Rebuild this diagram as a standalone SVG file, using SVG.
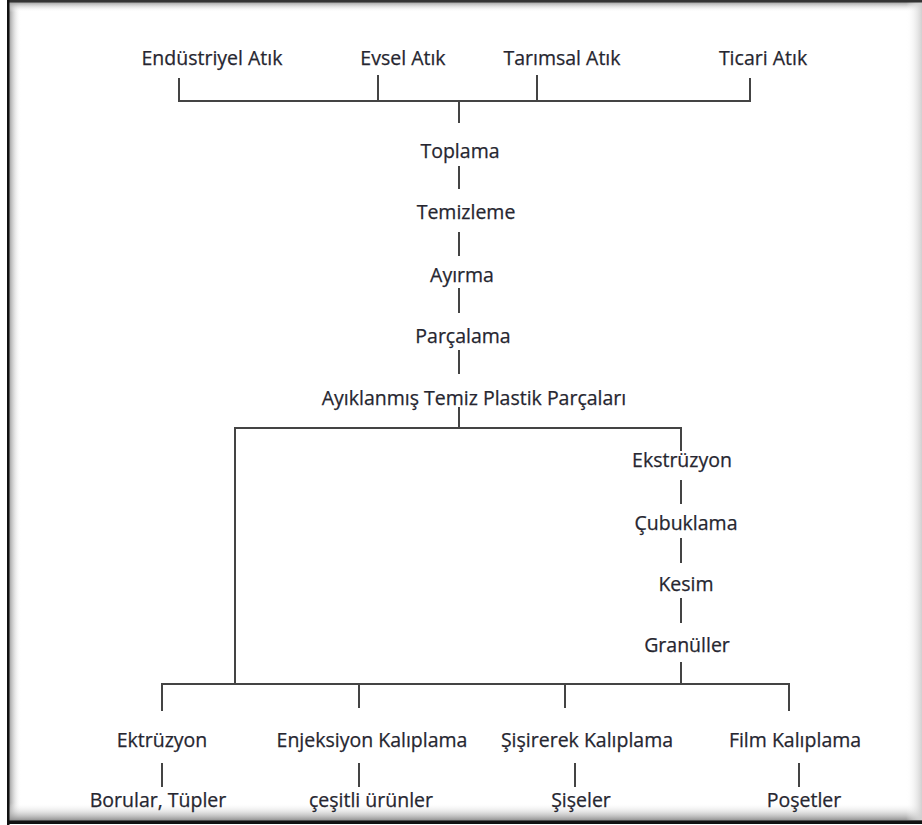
<svg xmlns="http://www.w3.org/2000/svg" width="922" height="825" viewBox="0 0 922 825">
<defs>
<linearGradient id="gL" x1="0" y1="0" x2="1" y2="0"><stop offset="0" stop-color="#9a9a9a"/><stop offset="1" stop-color="#fff" stop-opacity="0"/></linearGradient>
<linearGradient id="gT" x1="0" y1="0" x2="0" y2="1"><stop offset="0" stop-color="#9a9a9a"/><stop offset="1" stop-color="#fff" stop-opacity="0"/></linearGradient>
<linearGradient id="gB" x1="0" y1="1" x2="0" y2="0"><stop offset="0" stop-color="#8a8a8a"/><stop offset="1" stop-color="#fff" stop-opacity="0"/></linearGradient>
<linearGradient id="gR" x1="1" y1="0" x2="0" y2="0"><stop offset="0" stop-color="#d0d0d0"/><stop offset="1" stop-color="#fff" stop-opacity="0"/></linearGradient>
<style>
text{font-family:"Open Sans","Noto Sans","Liberation Sans",sans-serif;font-size:19.5px;fill:#262630;stroke:#262630;stroke-width:0.25;text-anchor:middle}
.c line{stroke:#444;stroke-width:2;stroke-linecap:square}
</style>
</defs>
<rect x="0" y="0" width="922" height="825" fill="#fff"/>
<g id="frame">
<rect x="9" y="2" width="12" height="818" fill="url(#gL)"/>
<rect x="9" y="2" width="913" height="10" fill="url(#gT)"/>
<rect x="9" y="803" width="913" height="18" fill="url(#gB)"/>
<rect x="906" y="2" width="16" height="818" fill="url(#gR)"/>
<rect x="7" y="0" width="915" height="2.5" fill="#333"/>
<rect x="7" y="0" width="2.5" height="825" fill="#111"/>
<rect x="7" y="820.5" width="915" height="3.5" fill="#111"/>
</g>
<g id="connectors" class="c">
<line x1="179" y1="79" x2="179" y2="101"/>
<line x1="378" y1="76" x2="378" y2="101"/>
<line x1="537" y1="76" x2="537" y2="101"/>
<line x1="750" y1="79" x2="750" y2="101"/>
<line x1="179" y1="101" x2="750" y2="101"/>
<line x1="459" y1="101" x2="459" y2="122"/>
<line x1="459" y1="167" x2="459" y2="188"/>
<line x1="459" y1="233" x2="459" y2="255"/>
<line x1="459" y1="289" x2="459" y2="312"/>
<line x1="459" y1="351" x2="459" y2="373"/>
<line x1="459" y1="408" x2="459" y2="428"/>
<line x1="235" y1="428" x2="681" y2="428"/>
<line x1="681" y1="428" x2="681" y2="450"/>
<line x1="235" y1="428" x2="235" y2="684"/>
<line x1="681" y1="481" x2="681" y2="503"/>
<line x1="681" y1="539" x2="681" y2="562"/>
<line x1="681" y1="599" x2="681" y2="622"/>
<line x1="681" y1="663" x2="681" y2="684"/>
<line x1="162" y1="684" x2="789" y2="684"/>
<line x1="162" y1="684" x2="162" y2="710"/>
<line x1="359" y1="684" x2="359" y2="707"/>
<line x1="565" y1="684" x2="565" y2="707"/>
<line x1="789" y1="684" x2="789" y2="710"/>
<line x1="162" y1="764" x2="162" y2="786"/>
<line x1="359" y1="764" x2="359" y2="786"/>
<line x1="575" y1="764" x2="575" y2="786"/>
<line x1="799" y1="764" x2="799" y2="786"/>
</g>
<g id="n-endustriyel"><text x="212" y="65">Endüstriyel Atık</text></g>
<g id="n-evsel"><text x="403" y="65">Evsel Atık</text></g>
<g id="n-tarimsal"><text x="562" y="65">Tarımsal Atık</text></g>
<g id="n-ticari"><text x="763" y="65">Ticari Atık</text></g>
<g id="n-toplama"><text x="460" y="158">Toplama</text></g>
<g id="n-temizleme"><text x="466" y="219">Temizleme</text></g>
<g id="n-ayirma"><text x="462" y="282">Ayırma</text></g>
<g id="n-parcalama"><text x="463" y="343">Parçalama</text></g>
<g id="n-ayiklanmis"><text x="474" y="405">Ayıklanmış Temiz Plastik Parçaları</text></g>
<g id="n-ekstruzyon"><text x="682" y="467">Ekstrüzyon</text></g>
<g id="n-cubuklama"><text x="686" y="530">Çubuklama</text></g>
<g id="n-kesim"><text x="686" y="591">Kesim</text></g>
<g id="n-granuller"><text x="687" y="652">Granüller</text></g>
<g id="n-ektruzyon"><text x="162" y="747">Ektrüzyon</text></g>
<g id="n-enjeksiyon"><text x="372" y="747">Enjeksiyon Kalıplama</text></g>
<g id="n-sisirerek"><text x="587" y="747">Şişirerek Kalıplama</text></g>
<g id="n-film"><text x="795" y="747">Film Kalıplama</text></g>
<g id="n-borular"><text x="158" y="807">Borular, Tüpler</text></g>
<g id="n-cesitli"><text x="371" y="807">çeşitli ürünler</text></g>
<g id="n-siseler"><text x="581" y="807">Şişeler</text></g>
<g id="n-posetler"><text x="804" y="807">Poşetler</text></g>
</svg>
